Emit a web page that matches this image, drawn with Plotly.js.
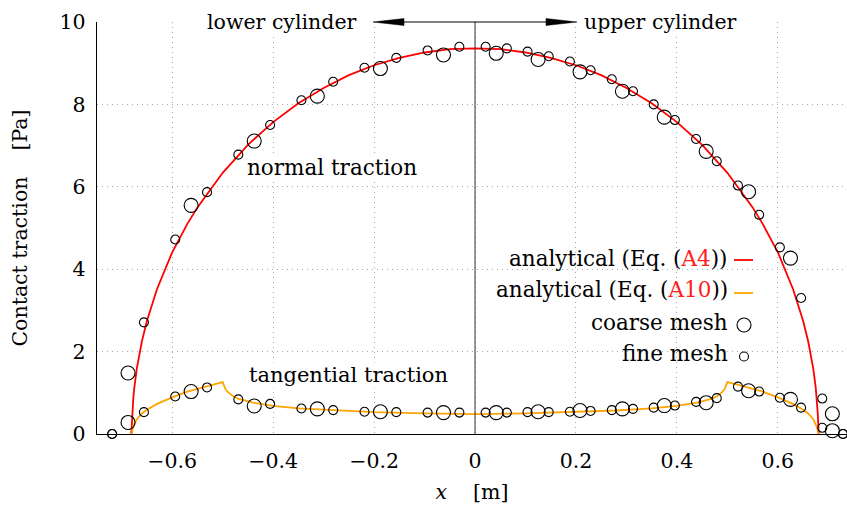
<!DOCTYPE html>
<html>
<head>
<meta charset="utf-8">
<script src="https://cdn.plot.ly/plotly-3.0.1.min.js"></script>
<style>html,body{margin:0;padding:0;background:#fff;}</style>
</head>
<body>
<div id="chart" style="width:847px;height:506px;"></div>
<script>
// Analytical normal traction (Eq. A4)
const normalX = [-0.681, -0.679, -0.677, -0.675, -0.67, -0.66, -0.65, -0.63, -0.6, -0.57, -0.55, -0.5, -0.45, -0.4, -0.35, -0.3, -0.25, -0.2, -0.15, -0.1, -0.05, 0,
                 0.05, 0.1, 0.15, 0.2, 0.25, 0.3, 0.35, 0.4, 0.45, 0.5, 0.55, 0.57, 0.6, 0.63, 0.65, 0.66, 0.67, 0.675, 0.677, 0.679, 0.681];
const normalY = [0, 0.51, 0.88, 1.13, 1.60, 2.25, 2.75, 3.52, 4.41, 5.10, 5.50, 6.34, 7.02, 7.57, 8.03, 8.40, 8.71, 8.95, 9.13, 9.26, 9.34, 9.36,
                 9.34, 9.26, 9.13, 8.95, 8.71, 8.40, 8.03, 7.57, 7.02, 6.34, 5.50, 5.10, 4.41, 3.52, 2.75, 2.25, 1.60, 1.13, 0.88, 0.51, 0];

// Analytical tangential traction (Eq. A10)
const tangX = [-0.68, -0.678, -0.675, -0.67, -0.66, -0.65, -0.63, -0.6, -0.57, -0.54, -0.52, -0.5, -0.495, -0.49, -0.48, -0.47, -0.44, -0.4, -0.35, -0.28, -0.2, -0.1, 0,
               0.1, 0.2, 0.28, 0.35, 0.4, 0.44, 0.47, 0.48, 0.49, 0.495, 0.5, 0.52, 0.54, 0.57, 0.6, 0.63, 0.65, 0.66, 0.67, 0.675, 0.678, 0.68];
const tangY = [0, 0.15, 0.25, 0.36, 0.50, 0.59, 0.73, 0.89, 1.03, 1.13, 1.20, 1.26, 1.10, 1.02, 0.92, 0.86, 0.76, 0.68, 0.62, 0.57, 0.53, 0.50, 0.48,
               0.50, 0.53, 0.57, 0.62, 0.68, 0.76, 0.86, 0.92, 1.02, 1.10, 1.26, 1.20, 1.13, 1.03, 0.89, 0.73, 0.59, 0.50, 0.36, 0.25, 0.15, 0];

// Coarse mesh results
const coarseX = [-0.6875, -0.5625, -0.4375, -0.3125, -0.1875, -0.0625,
                 0.042, 0.125, 0.208, 0.292, 0.375, 0.458, 0.542, 0.625, 0.708];
const coarseNormal = [1.48, 5.55, 7.11, 8.20, 8.87, 9.20,
                      9.24, 9.09, 8.79, 8.32, 7.69, 6.86, 5.88, 4.27, 0.49];
const coarseTang = [0.28, 1.03, 0.68, 0.61, 0.54, 0.52,
                    0.52, 0.54, 0.57, 0.61, 0.69, 0.76, 1.05, 0.84, 0.08];

// Fine mesh results
const fineX = [-0.719, -0.656, -0.594, -0.531, -0.469, -0.406, -0.344, -0.281, -0.219, -0.156, -0.094, -0.031,
               0.021, 0.063, 0.104, 0.146, 0.188, 0.229, 0.271, 0.313, 0.354, 0.396, 0.438, 0.479, 0.521, 0.563, 0.604, 0.646, 0.688, 0.729];
const fineNormal = [0, 2.71, 4.72, 5.87, 6.78, 7.50, 8.10, 8.55, 8.89, 9.13, 9.31, 9.40,
                    9.40, 9.36, 9.28, 9.17, 9.04, 8.83, 8.61, 8.32, 8.00, 7.62, 7.16, 6.62, 6.03, 5.32, 4.53, 3.30, 0.86, 0];
const fineTang = [0, 0.53, 0.91, 1.13, 0.84, 0.73, 0.62, 0.58, 0.54, 0.53, 0.52, 0.52,
                  0.52, 0.52, 0.53, 0.53, 0.54, 0.56, 0.58, 0.61, 0.64, 0.69, 0.78, 0.87, 1.15, 1.03, 0.88, 0.64, 0.15, 0];

const xTicks = [-0.6, -0.4, -0.2, 0, 0.2, 0.4, 0.6];
const yTicks = [0, 2, 4, 6, 8, 10];

const FONT = 'DejaVu Serif, serif';
const FS = 20.5;

const traces = [
  {x: normalX, y: normalY, type: 'scatter', mode: 'lines', line: {color: '#ff0000', width: 1.8}, name: 'analytical (Eq. (A4))'},
  {x: tangX, y: tangY, type: 'scatter', mode: 'lines', line: {color: '#ffa500', width: 1.8}, name: 'analytical (Eq. (A10))'},
  {x: coarseX.concat(coarseX), y: coarseNormal.concat(coarseTang), type: 'scatter', mode: 'markers', cliponaxis: false,
   marker: {symbol: 'circle-open', size: 14, color: '#000', line: {width: 1.1, color: '#000'}}, name: 'coarse mesh'},
  {x: fineX.concat(fineX), y: fineNormal.concat(fineTang), type: 'scatter', mode: 'markers', cliponaxis: false,
   marker: {symbol: 'circle-open', size: 9, color: '#000', line: {width: 1.1, color: '#000'}}, name: 'fine mesh'}
];

function px2paperX(p) { return (p - 97) / 750; }
function px2paperY(p) { return (434 - p) / 412; }

const legendRows = [
  {text: 'analytical (Eq. (<span style="color:#ff2020">A4</span>))', y: 258.5},
  {text: 'analytical (Eq. (<span style="color:#ff2020">A10</span>))', y: 289},
  {text: 'coarse mesh', y: 322.5},
  {text: 'fine mesh', y: 353.5}
];

const annotations = [
  {x: -0.232, y: 10, xref: 'x', yref: 'y', text: 'lower cylinder', showarrow: false, xanchor: 'right', yanchor: 'middle', bgcolor: '#fff', borderpad: 0},
  {x: 0.214, y: 10, xref: 'x', yref: 'y', text: 'upper cylinder', showarrow: false, xanchor: 'left', yanchor: 'middle', bgcolor: '#fff', borderpad: 0},
  {x: -0.283, y: 6.47, xref: 'x', yref: 'y', text: 'normal traction', showarrow: false, xanchor: 'center', yanchor: 'middle', bgcolor: '#fff', borderpad: 0, font: {size: 21.5}},
  {x: -0.2505, y: 1.43, xref: 'x', yref: 'y', text: 'tangential traction', showarrow: false, xanchor: 'center', yanchor: 'middle', bgcolor: '#fff', borderpad: 0, font: {size: 21}}
].concat(legendRows.map(r => ({
  x: px2paperX(729), y: px2paperY(r.y), xref: 'paper', yref: 'paper', text: r.text, showarrow: false,
  xanchor: 'right', yanchor: 'middle', borderpad: 0, font: {size: 21.5}
})));

const shapes = [
  // legend background
  {type: 'rect', xref: 'paper', yref: 'paper', x0: px2paperX(478), x1: px2paperX(757), y0: px2paperY(372), y1: px2paperY(236),
   fillcolor: '#fff', line: {width: 0}, layer: 'between'},
  // vertical separator at x = 0
  {type: 'line', xref: 'x', yref: 'paper', x0: 0, x1: 0, y0: 0, y1: 1, line: {color: '#333', width: 1}, layer: 'above'},
  // arrows
  {type: 'line', xref: 'paper', yref: 'paper', x0: px2paperX(380), x1: px2paperX(570), y0: 1, y1: 1, line: {color: '#000', width: 1}},
  {type: 'path', xref: 'paper', yref: 'paper', fillcolor: '#000', line: {color: '#000', width: 0.5},
   path: 'M ' + px2paperX(373) + ' 1 L ' + px2paperX(404) + ' ' + (1 + 3.5/412) + ' L ' + px2paperX(404) + ' ' + (1 - 3.5/412) + ' Z'},
  {type: 'path', xref: 'paper', yref: 'paper', fillcolor: '#000', line: {color: '#000', width: 0.5},
   path: 'M ' + px2paperX(577) + ' 1 L ' + px2paperX(546) + ' ' + (1 + 3.5/412) + ' L ' + px2paperX(546) + ' ' + (1 - 3.5/412) + ' Z'},
  // legend samples
  {type: 'line', xref: 'paper', yref: 'paper', x0: px2paperX(734), x1: px2paperX(753), y0: px2paperY(260), y1: px2paperY(260), line: {color: '#ff0000', width: 1.8}},
  {type: 'line', xref: 'paper', yref: 'paper', x0: px2paperX(734), x1: px2paperX(753), y0: px2paperY(293), y1: px2paperY(293), line: {color: '#ffa500', width: 1.8}},
  {type: 'circle', xref: 'paper', yref: 'paper', xsizemode: 'pixel', ysizemode: 'pixel',
   xanchor: px2paperX(744), yanchor: px2paperY(325), x0: -7, x1: 7, y0: -7, y1: 7, line: {color: '#000', width: 1.1}},
  {type: 'circle', xref: 'paper', yref: 'paper', xsizemode: 'pixel', ysizemode: 'pixel',
   xanchor: px2paperX(744), yanchor: px2paperY(356.5), x0: -4.5, x1: 4.5, y0: -4.5, y1: 4.5, line: {color: '#000', width: 1.1}}
];

const layout = {
  width: 847, height: 506,
  margin: {l: 97, r: 0, t: 22, b: 72},
  paper_bgcolor: '#fff', plot_bgcolor: '#fff',
  showlegend: false,
  font: {family: FONT, size: FS, color: '#000'},
  xaxis: {
    range: [-0.749, 0.737], tickvals: xTicks, ticks: '', showline: true, linecolor: '#000', linewidth: 1.3,
    showgrid: true, gridcolor: '#a8a8a8', griddash: '1px,4px', gridwidth: 1, zeroline: false,
    tickfont: {family: FONT, size: FS}, ticklabelstandoff: 8,
    title: {text: '<i>x</i>\u00a0\u00a0\u00a0\u00a0[m]', font: {family: FONT, size: FS}, standoff: 12}
  },
  yaxis: {
    range: [0, 10], tickvals: yTicks, ticks: '', showline: true, linecolor: '#000', linewidth: 1.3,
    showgrid: true, gridcolor: '#a8a8a8', griddash: '1px,4px', gridwidth: 1, zeroline: false,
    tickfont: {family: FONT, size: FS}, ticklabelstandoff: 6,
    title: {text: 'Contact traction\u00a0\u00a0\u00a0\u00a0[Pa]', font: {family: FONT, size: FS}, standoff: 26}
  },
  annotations: annotations,
  shapes: shapes
};

Plotly.newPlot('chart', traces, layout, {staticPlot: true, displayModeBar: false});
</script>
</body>
</html>
